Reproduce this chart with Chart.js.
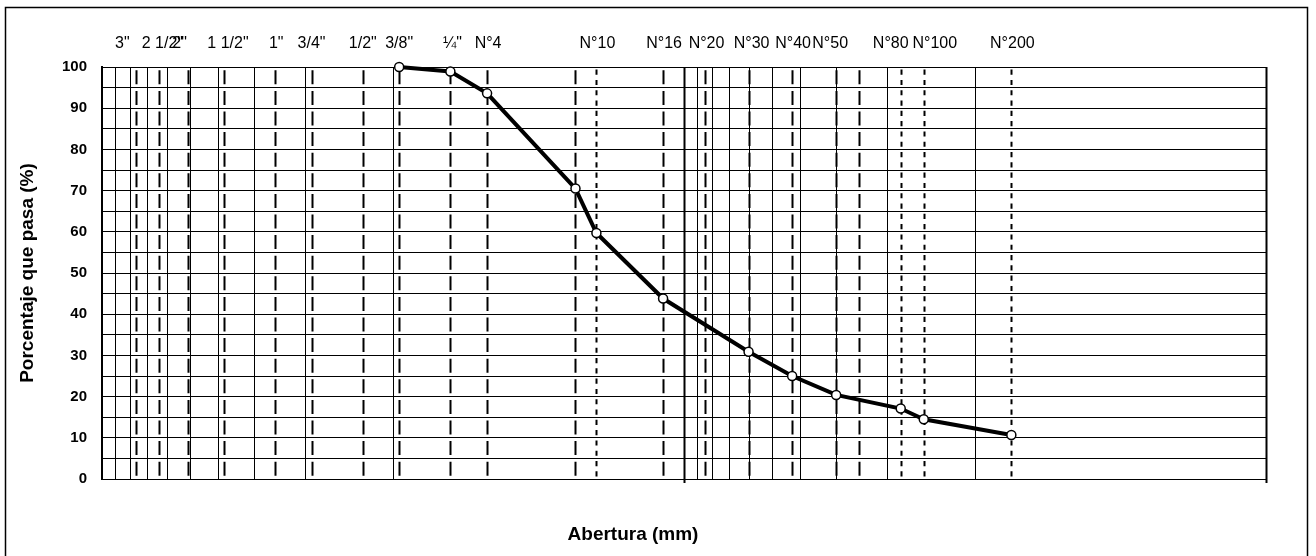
<!DOCTYPE html>
<html lang="es">
<head>
<meta charset="UTF-8">
<title>Curva granulométrica</title>
<script src="https://cdn.jsdelivr.net/npm/chart.js"></script>
<style>
  html, body { margin: 0; padding: 0; background: #fff; }
  #wrap { width: 1316px; height: 556px; position: relative; }
</style>
</head>
<body>
<div id="wrap"><canvas id="curva"></canvas></div>
<script>
// tamices: rótulo y abertura (mm)
const sieveNames = ['3"', '2 1/2"', '2"', '1 1/2"', '1"', '3/4"', '1/2"', '3/8"', '¼"', 'N°4', 'N°10', 'N°16', 'N°20', 'N°30', 'N°40', 'N°50', 'N°80', 'N°100', 'N°200'];
const sieveSizes = [76.2, 63.5, 50.8, 38.1, 25.4, 19.05, 12.7, 9.525, 6.35, 4.75, 2.0, 1.18, 0.85, 0.6, 0.425, 0.3, 0.18, 0.15, 0.075];
// corrimiento del rótulo respecto de su línea (px)
const nameShift = [-14, 3, -8, 4, 1, 0, 0, 0, 2, 1, 1, 1, 2, 3, 1, -6, -10, 11, 1];
// tamices sin rótulo (N°8, N°60)
const extraSizes = [2.36, 0.25];
// tamices dibujados con trazo corto
const shortDash = [2.0, 0.18, 0.15, 0.075];
// cuadrícula logarítmica
const minorGrid = [90, 80, 70, 60, 50, 40, 30, 20, 10, 0.9, 0.8, 0.7, 0.6, 0.5, 0.4, 0.3, 0.2, 0.1];
const heavyGrid = [1, 0.01];

// resultados del ensayo
const sampleSizes = [9.525, 6.35, 4.75, 2.36, 2.0, 1.18, 0.6, 0.425, 0.3, 0.18, 0.15, 0.075];
const passing = [100, 98.9, 93.6, 70.5, 59.7, 43.8, 30.9, 25.0, 20.4, 17.1, 14.5, 10.7];

const FONT = '"Liberation Sans", Arial, sans-serif';

const sieveLines = {
  id: 'sieveLines',
  beforeDraw(chart) {
    const ctx = chart.ctx;
    ctx.save();
    ctx.fillStyle = '#fff';
    ctx.fillRect(0, 0, chart.width, chart.height);
    ctx.restore();
  },
  beforeDatasetsDraw(chart) {
    const {ctx, chartArea: a, scales: {x}} = chart;
    const cell = (a.bottom - a.top) / 20;
    const vline = (v, y1, y2) => {
      const px = Math.round(x.getPixelForValue(v)) + 0.5;
      ctx.beginPath();
      ctx.moveTo(px, y1);
      ctx.lineTo(px, y2);
      ctx.stroke();
    };
    ctx.save();
    ctx.strokeStyle = '#000';

    ctx.lineWidth = 1;
    minorGrid.forEach(v => vline(v, a.top, a.bottom));

    ctx.lineWidth = 2;
    heavyGrid.forEach(v => vline(v, a.top, a.bottom + 4));

    sieveSizes.concat(extraSizes).forEach(v => {
      if (shortDash.includes(v)) {
        ctx.setLineDash([cell * 0.25, cell * 0.25]);
        ctx.lineDashOffset = cell * 0.375;
      } else {
        ctx.setLineDash([cell * 0.68, cell * 0.32]);
        ctx.lineDashOffset = cell * 0.84;
      }
      vline(v, a.top, a.bottom);
    });
    ctx.restore();
  },
  afterDraw(chart) {
    const {ctx, chartArea: a, scales: {x}} = chart;
    ctx.save();
    ctx.fillStyle = '#000';
    ctx.font = '16px ' + FONT;
    ctx.textAlign = 'center';
    ctx.textBaseline = 'middle';
    sieveNames.forEach((name, i) => {
      ctx.fillText(name, x.getPixelForValue(sieveSizes[i]) + nameShift[i], a.top - 23);
    });

    // marco exterior
    ctx.strokeStyle = '#000';
    ctx.lineWidth = 1.5;
    ctx.strokeRect(5.5, 7.5, 1302, 600);
    ctx.restore();
  }
};

new Chart(document.getElementById('curva'), {
  type: 'scatter',
  data: {
    datasets: [{
      data: sampleSizes.map((s, i) => ({x: s, y: passing[i]})),
      showLine: true,
      clip: false,
      borderColor: '#000',
      borderWidth: 4,
      tension: 0,
      pointRadius: 4.5,
      pointBackgroundColor: '#fff',
      pointBorderColor: '#000',
      pointBorderWidth: 1.5
    }]
  },
  options: {
    responsive: true,
    maintainAspectRatio: false,
    devicePixelRatio: 1,
    animation: false,
    layout: { padding: {top: 67, right: 50, bottom: 0, left: 0} },
    plugins: {
      legend: { display: false },
      tooltip: { enabled: false },
      title: {
        display: true,
        position: 'bottom',
        text: 'Abertura (mm)',
        color: '#000',
        font: {family: FONT, size: 19, weight: 'bold'},
        padding: {top: 0, bottom: 9.6}
      }
    },
    scales: {
      x: {
        type: 'logarithmic',
        reverse: true,
        min: 0.01,
        max: 100,
        grid: { display: false },
        ticks: { display: false },
        border: { color: '#000', width: 1 },
        afterFit(s) { s.height = 44.6; }
      },
      y: {
        min: 0,
        max: 100,
        ticks: {
          stepSize: 5,
          autoSkip: false,
          padding: 15,
          color: '#000',
          font: {family: FONT, size: 15, weight: 'bold'},
          callback: v => (v % 10 === 0 ? v : '')
        },
        grid: { color: '#000', lineWidth: 1, drawTicks: false },
        border: { color: '#000', width: 2 },
        title: {
          display: true,
          text: 'Porcentaje que pasa (%)',
          color: '#000',
          font: {family: FONT, size: 19, weight: 'bold'},
          padding: {top: 16.6, bottom: 0}
        },
        afterFit(s) { s.width = 102; }
      }
    }
  },
  plugins: [sieveLines]
});
</script>
</body>
</html>
